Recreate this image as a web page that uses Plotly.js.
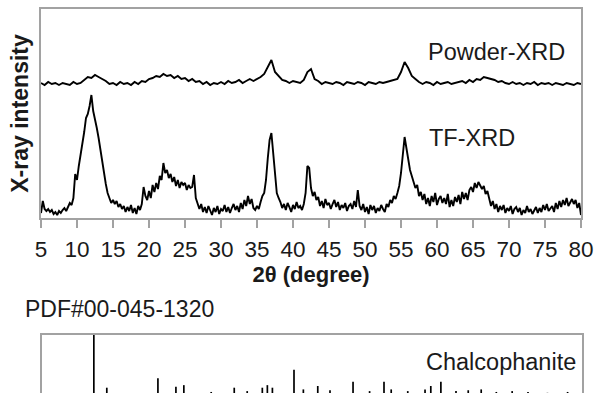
<!DOCTYPE html>
<html>
<head>
<meta charset="utf-8">
<script src="https://cdn.plot.ly/plotly-3.0.1.min.js"></script>
<style>
html,body{margin:0;padding:0;overflow:hidden;background:#fff;}
#chart{width:597px;height:460px;}
</style>
</head>
<body>
<div id="chart"></div>
<script>
// ---- data ----
const tfStart = 5, tfStep = 0.25;
const tfXRD = [
  5, 17, 9, 7,
  9, 6, 8, 4,
  6, 3, 7, 5,
  8, 10, 7, 12,
  15, 13, 20, 44,
  38, 52, 62, 74,
  86, 100, 104, 112,
  123, 107, 100, 90,
  80, 68, 56, 42,
  34, 25, 19, 15,
  18, 14, 17, 11,
  14, 9, 12, 6,
  11, 7, 13, 5,
  10, 4, 12, 8,
  14, 31, 22, 18,
  27, 20, 33, 26,
  35, 29, 42, 38,
  55, 45, 48, 40,
  44, 36, 41, 32,
  38, 30, 36, 33,
  35, 28, 33, 30,
  31, 43, 20, 13,
  9, 14, 6, 11,
  5, 12, 8, 3,
  10, 6, 12, 4,
  9, 7, 13, 6,
  11, 5, 10, 14,
  8, 12, 6, 15,
  9, 18, 12, 22,
  14, 19, 10, 8,
  12, 9, 16, 22,
  25, 38, 60, 78,
  85, 62, 40, 25,
  20, 16, 10, 14,
  8, 15, 11, 6,
  13, 9, 16, 10,
  12, 8, 14, 25,
  52, 50, 30, 22,
  26, 18, 21, 12,
  17, 10, 19, 13,
  15, 9, 14, 18,
  11, 16, 8, 13,
  10, 15, 7, 12,
  14, 9, 17, 11,
  28, 12, 8, 14,
  6, 11, 4, 13,
  8, 12, 5, 10,
  7, 13, 9, 6,
  14, 11, 18, 15,
  22, 19, 25, 32,
  45, 62, 81, 70,
  58, 48, 42, 36,
  30, 33, 22, 26,
  18, 24, 14, 20,
  12, 22, 16, 25,
  13, 19, 22, 15,
  20, 14, 24, 11,
  18, 12, 21, 16,
  23, 14, 26, 19,
  25, 18, 28, 31,
  26, 35, 30, 36,
  33, 29, 32, 24,
  27, 18, 12, 17,
  9, 14, 6, 12,
  8, 13, 5, 10,
  7, 12, 4, 9,
  11, 6, 10, 3,
  8, 5, 12, 6,
  9, 4, 7, 11,
  5, 10, 6, 13,
  8, 14, 7, 10,
  12, 6, 15, 9,
  17, 11, 18, 13,
  20, 12, 16, 19,
  14, 18, 10, 15,
  3
];

const powderStart = 5, powderStep = 0.5;
const powderXRD = [
  135, 133, 136, 134, 135, 133, 135, 134, 133, 136,
  134, 135, 138, 141, 140, 143, 141, 139, 137, 134,
  135, 133, 136, 134, 135, 133, 136, 134, 137, 136,
  139, 140, 142, 141, 144, 142, 143, 140, 142, 139,
  140, 137, 139, 136, 137, 134, 136, 133, 135, 134,
  136, 134, 137, 135, 136, 138, 135, 137, 139, 137,
  139, 141, 144, 151, 158, 146, 142, 138, 137, 135,
  137, 136, 135, 138, 146, 149, 139, 137, 134, 136,
  135, 134, 136, 135, 133, 136, 135, 134, 136, 135,
  133, 136, 135, 134, 136, 135, 136, 137, 138, 139,
  146, 156, 150, 142, 139, 136, 134, 136, 135, 133,
  136, 134, 135, 136, 134, 135, 136, 137, 135, 138,
  136, 139, 138, 141, 140, 139, 138, 136, 137, 135,
  134, 136, 134, 135, 133, 135, 134, 136, 133, 135,
  134, 135, 133, 135, 134, 133, 135, 134, 133, 135,
  134
];

const stickPos = [12.2, 14.0, 21.1, 23.6, 24.7, 28.5, 31.7, 33.5, 35.6, 36.3, 37.0, 40.0, 41.3, 43.3, 45.0, 48.2, 50.5, 52.5, 53.5, 55.8, 58.2, 59.0, 60.4, 62.5, 64.2, 66.0, 68.1, 70.3, 72.5, 75.2, 78.0];
const stickInt = [100, 38, 49, 39, 41, 33, 38, 34, 38, 41, 38, 59, 36, 40, 35, 45, 34, 45, 36, 34, 36, 40, 45, 34, 35, 36, 33, 34, 33, 32, 33];

const tickVals = [5, 10, 15, 20, 25, 30, 35, 40, 45, 50, 55, 60, 65, 70, 75, 80];
const tickText = ["5", "10", "15", "20", "25", "30", "35", "40", "45", "50", "55", "60", "65", "70", "75", "80"];

// ---- build traces ----
const tfX = tfXRD.map((_, i) => tfStart + i * tfStep);
const powderX = powderXRD.map((_, i) => powderStart + i * powderStep);

const sx = [], sy = [];
stickPos.forEach((p, i) => { sx.push(p, p, null); sy.push(0, stickInt[i], null); });

const W = 597, H = 460;
const px = v => v / W;
const py = v => 1 - v / H;
const FONT = "Liberation Sans, Arial, sans-serif";
const GREY = "#a2a2a2";
const INK = "#1a1a1a";

const traces = [
  {x: powderX, y: powderXRD, type: "scatter", mode: "lines", line: {color: "#000", width: 1.9}, xaxis: "x", yaxis: "y", hoverinfo: "skip"},
  {x: tfX, y: tfXRD, type: "scatter", mode: "lines", line: {color: "#000", width: 1.9}, xaxis: "x", yaxis: "y", hoverinfo: "skip"},
  {x: sx, y: sy, type: "scatter", mode: "lines", line: {color: "#000", width: 1.7}, xaxis: "x2", yaxis: "y2", hoverinfo: "skip", connectgaps: false}
];

const layout = {
  width: W, height: H, autosize: false,
  margin: {l: 0, r: 0, t: 0, b: 0},
  paper_bgcolor: "#fff", plot_bgcolor: "#fff",
  showlegend: false,
  font: {family: FONT, color: INK},
  xaxis: {
    domain: [px(41), px(581)], anchor: "y",
    range: [5, 80], tickmode: "array", tickvals: tickVals, ticktext: tickText,
    ticks: "outside", ticklen: 8, tickwidth: 1.5, tickcolor: GREY,
    showline: true, mirror: true, linecolor: GREY, linewidth: 1.8,
    showgrid: false, zeroline: false,
    tickfont: {size: 22.5, family: FONT, color: INK},
    ticklabelstandoff: 2,
    title: {text: "2θ (degree)", font: {size: 22, family: FONT, color: INK, weight: "bold"}, standoff: 5}
  },
  yaxis: {
    domain: [py(218), py(9)], anchor: "x",
    range: [0, 209], showticklabels: false, ticks: "",
    showline: true, mirror: true, linecolor: GREY, linewidth: 1.8,
    showgrid: false, zeroline: false,
    title: {text: "X-ray intensity", font: {size: 23, family: FONT, color: INK, weight: "bold"}, standoff: 4}
  },
  xaxis2: {
    domain: [px(42), px(582)], anchor: "y2",
    range: [5, 80], showticklabels: false, ticks: "",
    showline: true, mirror: true, linecolor: GREY, linewidth: 1.8,
    showgrid: false, zeroline: false
  },
  yaxis2: {
    domain: [py(420), py(335)], anchor: "x2",
    range: [0, 100], showticklabels: false, ticks: "",
    showline: true, mirror: true, linecolor: GREY, linewidth: 1.8,
    showgrid: false, zeroline: false
  },
  annotations: [
    {text: "Powder-XRD", xref: "paper", yref: "paper", x: px(567), y: py(52), xanchor: "right", yanchor: "middle", showarrow: false, font: {size: 23.5, family: FONT, color: INK}},
    {text: "TF-XRD", xref: "paper", yref: "paper", x: px(427), y: py(138), xanchor: "left", yanchor: "middle", showarrow: false, font: {size: 23.5, family: FONT, color: INK}},
    {text: "PDF#00-045-1320", xref: "paper", yref: "paper", x: px(23), y: py(309), xanchor: "left", yanchor: "middle", showarrow: false, font: {size: 23, family: FONT, color: INK}},
    {text: "Chalcophanite", xref: "paper", yref: "paper", x: px(578), y: py(362), xanchor: "right", yanchor: "middle", showarrow: false, font: {size: 23.5, family: FONT, color: INK}}
  ]
};

Plotly.newPlot("chart", traces, layout, {staticPlot: true, displayModeBar: false});
</script>
</body>
</html>
